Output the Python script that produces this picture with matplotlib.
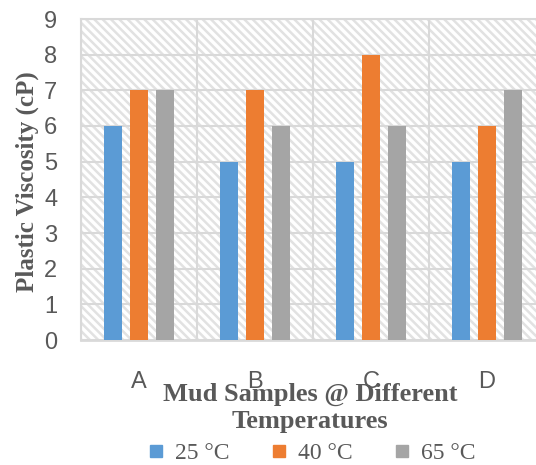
import numpy as np
import matplotlib.pyplot as plt
from matplotlib.patches import Rectangle
from matplotlib.lines import Line2D

# data
samples = ['A', 'B', 'C', 'D']
temps = ['25 °C', '40 °C', '65 °C']
visc_25 = [6, 5, 5, 5]
visc_40 = [7, 7, 8, 6]
visc_65 = [7, 6, 6, 7]

colors = ['#5B9BD5', '#ED7D31', '#A5A5A5']
txt = '#595959'
grid_c = '#d9d9d9'

plt.rcParams['hatch.color'] = '#e2e2e2'
plt.rcParams['hatch.linewidth'] = 1.8

W, H = 536, 465
fig = plt.figure(figsize=(W/100, H/100), dpi=100)
# plot area runs past the right edge of the image like the original
ax = fig.add_axes([81/W, (H-340)/H, (545-81)/W, (340-19)/H])

# hatched background
bg = Rectangle((0, 0), 1, 1, transform=ax.transAxes, facecolor='white',
               edgecolor='#e2e2e2', hatch='\\\\\\\\', lw=0, zorder=0.1)
ax.add_patch(bg)

x = np.arange(len(samples))
offs = [-0.22, 0, 0.22]
for vals, off, c, lab in zip([visc_25, visc_40, visc_65], offs, colors, temps):
    ax.bar(x + off, vals, width=0.155, color=c, label=lab, zorder=3)

ax.set_xlim(-0.5, 3.5)
ax.set_ylim(0, 9)
ax.set_yticks(range(10))
ax.set_xticks(x)
ax.set_xticklabels(samples)
ax.set_xticks(np.arange(-0.5, 4, 1), minor=True)
ax.grid(axis='y', which='major', color=grid_c, lw=1.5, zorder=1)
ax.grid(axis='x', which='minor', color=grid_c, lw=1.5, zorder=1)
ax.set_axisbelow(True)

for s in ['left', 'top', 'right']:
    ax.spines[s].set_color(grid_c)
    ax.spines[s].set_linewidth(1.5)
ax.spines['bottom'].set_color(grid_c)
ax.spines['bottom'].set_linewidth(2)

ax.tick_params(axis='y', length=0, pad=17, labelsize=17, labelcolor=txt)
ax.tick_params(axis='x', which='both', length=0, pad=22, labelsize=17, labelcolor=txt)
for t in ax.get_xticklabels() + ax.get_yticklabels():
    t.set_family('Liberation Sans')

fig.text(310/W, 1-408/H, 'Mud Samples @ Different\nTemperatures', ha='center', va='center',
         family='Liberation Serif', fontweight='bold', fontsize=19, color=txt, linespacing=1.25)
fig.text(27/W, 1-182/H, 'Plastic Viscosity (cP)', rotation=90, ha='center', va='center',
         family='Liberation Serif', fontweight='bold', fontsize=18, color=txt)

handles = [Line2D([], [], ls='none', marker='s', markersize=8, color=c) for c in colors]
fig.legend(handles, temps, loc='center', bbox_to_anchor=(310/W, 1-453/H), ncol=3,
           frameon=False, prop={'family': 'Liberation Serif', 'size': 17},
           labelcolor=txt, handletextpad=0.3, columnspacing=1.6, handlelength=1.0,
           borderpad=0)

plt.savefig('out.png', dpi=100)
